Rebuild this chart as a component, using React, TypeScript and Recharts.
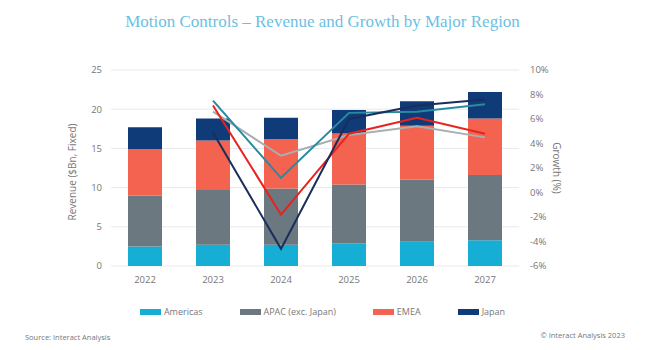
import React from 'react';
import { ComposedChart, Bar, Line, XAxis, YAxis, CartesianGrid } from 'recharts';

const years = ['2022', '2023', '2024', '2025', '2026', '2027'];
const americas = [2.5, 2.7, 2.7, 2.9, 3.1, 3.3];
const apac = [6.5, 7.0, 7.2, 7.5, 7.9, 8.3];
const emea = [5.9, 6.3, 6.3, 6.5, 6.9, 7.2];
const japan = [2.8, 2.8, 2.7, 3.0, 3.1, 3.4];

const growthAmericas = [null, 7.5, 1.2, 6.5, 6.6, 7.2];
const growthApac = [null, 6.6, 3.0, 4.7, 5.4, 4.5];
const growthEmea = [null, 7.1, -1.8, 4.8, 6.1, 4.8];
const growthJapan = [null, 4.9, -4.6, 6.0, 7.1, 7.6];

const leftTicks = [0, 5, 10, 15, 20, 25];
const rightTicks = [-6, -4, -2, 0, 2, 4, 6, 8, 10];

const data = years.map((y, i) => ({
  year: y,
  americas: americas[i],
  apac: apac[i],
  emea: emea[i],
  japan: japan[i],
  gAmericas: growthAmericas[i],
  gApac: growthApac[i],
  gEmea: growthEmea[i],
  gJapan: growthJapan[i],
}));

const legendItems = [
  { name: 'Americas', color: '#17aed6' },
  { name: 'APAC (exc. Japan)', color: '#6b7880' },
  { name: 'EMEA', color: '#f4634f' },
  { name: 'Japan', color: '#0f3c78' },
];

const font = '"Open Sans", sans-serif';
const tickStyle = { fill: '#777777', stroke: 'none', fontSize: 9.5, fontFamily: font };

export default function App() {
  return (
    <div style={{ position: 'absolute', left: 0, top: 0, width: 645, height: 350, background: '#fff', fontFamily: font }}>
      <div style={{ position: 'absolute', left: 0, top: 12, width: 645, textAlign: 'center', fontFamily: '"Liberation Serif", serif', fontSize: 17, color: '#6cbfe2' }}>
        Motion Controls – Revenue and Growth by Major Region
      </div>
      <ComposedChart width={645} height={350} data={data} margin={{ top: 70, right: 86, bottom: 54, left: 71 }}>
        <CartesianGrid yAxisId="left" vertical={false} stroke="#e6e9ee" />
        <XAxis dataKey="year" axisLine={false} tickLine={false} tickSize={0} tickMargin={10} height={30} tick={tickStyle} />
        <YAxis yAxisId="left" orientation="left" domain={[0, 25]} ticks={leftTicks} axisLine={false} tickLine={false} tickSize={0} tickMargin={9} width={40} tick={tickStyle} />
        <YAxis yAxisId="right" orientation="right" domain={[-6, 10]} ticks={rightTicks} axisLine={false} tickLine={false} tickSize={0} tickMargin={11} width={40} tick={tickStyle} tickFormatter={(v: number) => `${v}%`} />
        <Bar yAxisId="left" dataKey="americas" stackId="a" fill="#17aed6" barSize={34} isAnimationActive={false} />
        <Bar yAxisId="left" dataKey="apac" stackId="a" fill="#6b7880" barSize={34} isAnimationActive={false} />
        <Bar yAxisId="left" dataKey="emea" stackId="a" fill="#f4634f" barSize={34} isAnimationActive={false} />
        <Bar yAxisId="left" dataKey="japan" stackId="a" fill="#0f3c78" barSize={34} isAnimationActive={false} />
        <Line yAxisId="right" dataKey="gApac" stroke="#a9aeb1" strokeWidth={2} dot={false} isAnimationActive={false} />
        <Line yAxisId="right" dataKey="gAmericas" stroke="#2a8ba0" strokeWidth={2} dot={false} isAnimationActive={false} />
        <Line yAxisId="right" dataKey="gEmea" stroke="#e8231d" strokeWidth={2} dot={false} isAnimationActive={false} />
        <Line yAxisId="right" dataKey="gJapan" stroke="#1b2d5c" strokeWidth={2} dot={false} isAnimationActive={false} />
      </ComposedChart>
      <div style={{ position: 'absolute', left: 72, top: 172, transform: 'translate(-50%, -50%) rotate(-90deg)', whiteSpace: 'nowrap', fontSize: 10, color: '#777' }}>
        Revenue ($Bn, Fixed)
      </div>
      <div style={{ position: 'absolute', left: 557, top: 168, transform: 'translate(-50%, -50%) rotate(90deg)', whiteSpace: 'nowrap', fontSize: 10, color: '#777' }}>
        Growth (%)
      </div>
      <div style={{ position: 'absolute', left: 0, top: 305, width: 645, display: 'flex', justifyContent: 'center', gap: 37, fontSize: 9, color: '#777' }}>
        {legendItems.map((it) => (
          <div key={it.name} style={{ display: 'flex', alignItems: 'center' }}>
            <span style={{ display: 'inline-block', width: 21, height: 6, background: it.color, marginRight: 3 }} />
            <span>{it.name}</span>
          </div>
        ))}
      </div>
      <div style={{ position: 'absolute', left: 25, top: 332, fontSize: 7.5, color: '#777' }}>Source: Interact Analysis</div>
      <div style={{ position: 'absolute', right: 20, top: 330, fontSize: 7.5, color: '#777' }}>© Interact Analysis 2023</div>
    </div>
  );
}
